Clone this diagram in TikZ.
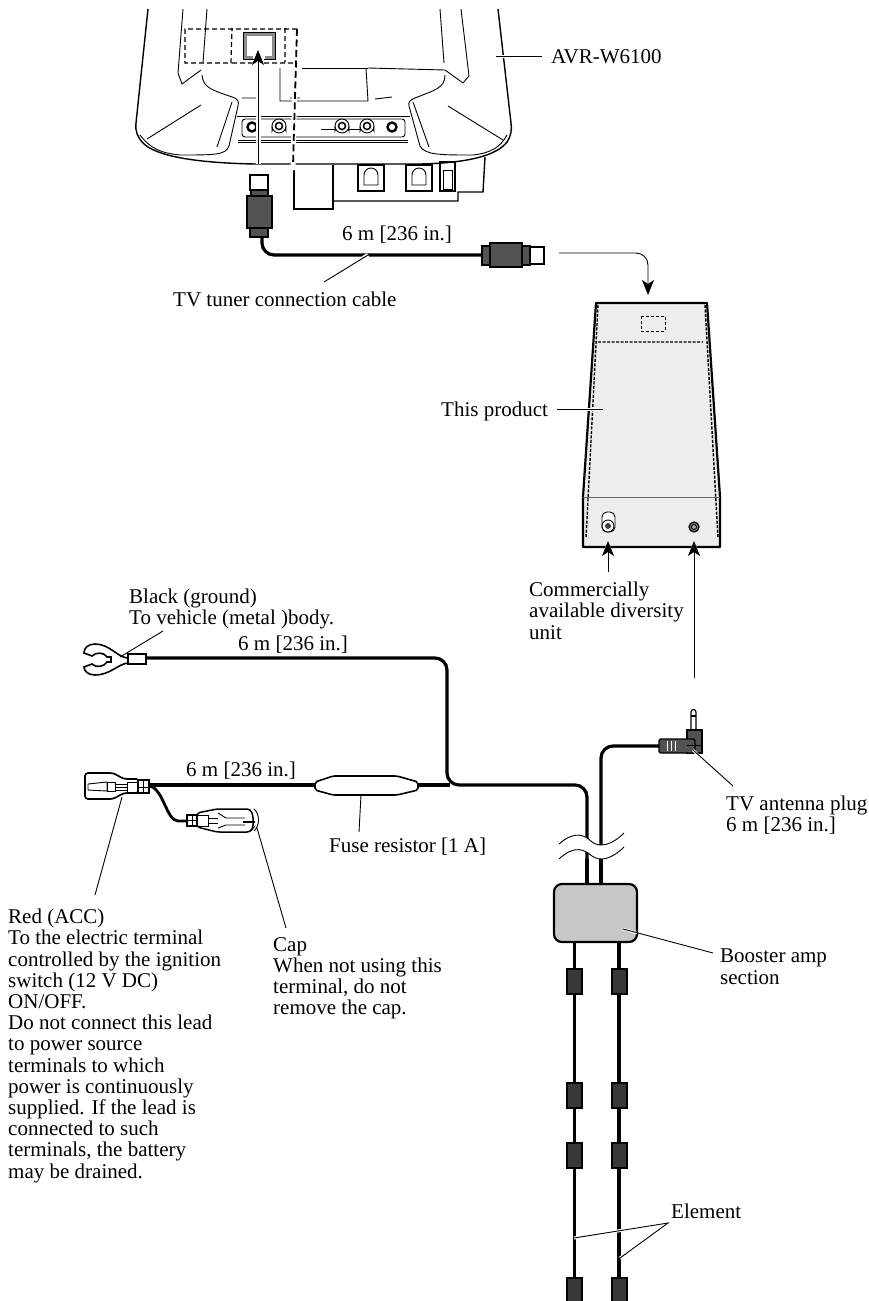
\documentclass[tikz,border=0pt]{standalone}
\usepackage{fontspec}
\setmainfont{Liberation Serif}
\usetikzlibrary{arrows.meta,calc}
\tikzset{
  note/.style={inner sep=0pt,align=left,anchor=north west,font=\fontsize{21}{21.2}\selectfont},
  leader/.style={line width=0.9pt},
  halo/.style={white,line width=4pt},
  thinline/.style={line width=0.9pt},
  bodyline/.style={line width=1.4pt},
  cable/.style={line width=3.2pt,rounded corners=12pt},
  plugdark/.style={draw=black,fill=black!68,line width=1.4pt},
  bead/.style={draw=black,fill=black!78,line width=1.5pt},
  tip/.style={-{Stealth[length=15pt,width=12pt,inset=4pt]},line width=0.9pt},
  tiphalo/.style={white,line width=2pt,-{Stealth[length=17pt,width=14pt,inset=4pt]}}
}
\begin{document}
\begin{tikzpicture}[x=1pt,y=-1pt]
\useasboundingbox (0,0) rectangle (869,1301);
% head unit
\draw[bodyline] (148,9) -- (136,123) .. controls (135,132) and (138,137) .. (142,142)
  .. controls (155,157) and (200,163) .. (255,164) -- (420,164)
  .. controls (470,163) and (497,155) .. (507,142) .. controls (511,136) and (512,130) .. (511,123) -- (498,9);
\draw[thinline] (183,9) -- (178,73) -- (182,84) -- (201,70);
\draw[thinline] (207,9) -- (203,63);
\draw[thinline] (440,9) -- (444,63);
\draw[thinline] (461,9) -- (469,76) -- (463,83) -- (445,70) -- (368,68);
\draw[thinline] (366,68) -- (368,101) -- (280,101) -- (280,68);
\draw[thinline] (302,68) -- (368,68);
\draw[thinline] (202,75) .. controls (203,88) and (212,90) .. (235,98) .. controls (238,100) and (239,102) .. (238,106)
  -- (229,146) .. controls (226,155) and (215,155) .. (180,155) .. controls (160,153) and (150,148) .. (140,135);
\draw[thinline] (445,75) .. controls (445,88) and (435,90) .. (415,98) .. controls (410,100) and (408,102) .. (409,106)
  -- (420,146) .. controls (425,155) and (440,155) .. (473,155) .. controls (490,153) and (500,148) .. (507,135);
\draw[thinline] (201,105) -- (147,139) (448,106) -- (503,140);
\draw[thinline] (232,102) -- (217,147) (413,102) -- (429,147);
\draw[thinline] (242,98) -- (257,98) (290,98) -- (300,98) (375,99) -- (392,97);
\draw[thinline] (237,116) -- (410,116) (238,140) -- (408,140) (238,142) -- (408,142);
\draw[thinline,rounded corners=3pt] (242,119) rectangle (405,137);
\foreach \jackx in {279,342,367} {
  \draw[thinline,fill=white] (\jackx-7,126) -- (\jackx-7,131) arc (180:0:7 and -3.5) -- (\jackx+7,126);
  \draw[thinline,fill=white] (\jackx,126) circle (7);
  \draw[line width=1.5pt] (\jackx,126) circle (3.5);
}
\foreach \jackx in {252,392} {
  \draw[line width=2.4pt,fill=white] (\jackx,127) circle (4.5);
}
\draw[thinline] (321,129) -- (335,129) (349,129) -- (360,129);
\draw[bodyline] (294,165) -- (294,209) -- (333,209) -- (333,165);
\draw[bodyline] (333,201) -- (458,201) -- (458,192) -- (483,192) -- (485,157);
\foreach \boxx in {358,406} {
  \draw[bodyline] (\boxx,165) rectangle ++(26,26);
  \draw[thinline] (\boxx+6,185) -- (\boxx+6,175) arc (180:360:7) -- (\boxx+20,185) -- cycle;
}
\draw[bodyline] (440,162) rectangle (455,191);
\draw[thinline] (443,170) rectangle (452,189);
% connector on the head unit
\draw[line width=3pt,black!45] (253,57) -- (245,57) -- (245,34) -- (273,34) -- (273,57) -- (265,57);
\draw[line width=0.9pt] (254,59) -- (243,59) -- (243,32) -- (275,32) -- (275,59) -- (264,59);
\draw[white,line width=5pt] (295,66) -- (293,170);
\draw[dash pattern=on 7pt off 3.5pt,line width=1.8pt] (297,29) -- (293,165);
\draw[dash pattern=on 5pt off 3pt,line width=1.2pt] (297,29) -- (185,29) -- (185,63) -- (231,63) -- (232,28)
  (232,63) -- (297,63) (285,28) -- (285,62);
% cable to the tuner
\coordinate (tunerplug) at (262,237);
\coordinate (tunerend) at (482,255);
\draw[cable] (tunerplug) -- (262,255) -- (tunerend);
\draw[line width=1.2pt,fill=white] (250,175) rectangle (268,190);
\draw[plugdark] (251,190) rectangle (268,198);
\draw[plugdark] (247,196) rectangle (272,228);
\draw[plugdark] (250,228) rectangle (268,237);
\draw[plugdark] (482,246) rectangle (490,265);
\draw[line width=1.2pt,fill=white] (530,247) rectangle (544,264);
\draw[plugdark] (490,243) rectangle (522,267);
\draw[plugdark] (522,246) rectangle (530,265);
\coordinate (portarrow) at (258,50);
\coordinate (portfoot) at (258,164);
\draw[tiphalo] (portfoot) -- (portarrow);
\draw[white,line width=5pt] (portfoot) -- (258,64);
\draw[tip] (portfoot) -- (portarrow);
% tuner box
\draw[line width=2.2pt,fill=black!7,line join=round] (596,303) -- (707,303) -- (720,497) -- (720,547) -- (583,547) -- (583,497) -- cycle;
\draw[thinline,black!60] (583,497) -- (720,497);
\draw[dash pattern=on 3pt off 1.5pt,line width=1.4pt] (598,305) -- (586,538) (705,305) -- (718,538) (598,342) -- (703,342);
\draw[dash pattern=on 3pt off 2pt,line width=0.9pt] (641,316) rectangle (665,331);
\draw[thinline,fill=white,rounded corners=5pt] (602,512) rectangle (615,532);
\draw[thinline,fill=white] (608,526) circle (6);
\fill[black!75] (608,526) circle (3);
\draw[line width=1.2pt,fill=black!50] (694,527) circle (5);
\draw[thinline,fill=black!30] (694,527) circle (2.5);
\coordinate (boxtop) at (648,295);
\coordinate (plugpoint) at (559,253);
\draw[tip,rounded corners=12pt] (plugpoint) -- (648,253) -- (boxtop);
\coordinate (divport) at (608,541);
\coordinate (antport) at (694,541);
\coordinate (antfoot) at (694,678);
\draw[tiphalo] (608,570) -- (divport);
\draw[tiphalo] (antfoot) -- (antport);
\draw[tip] (608,572) -- (divport);
\draw[tip] (antfoot) -- (antport);
% harness
\draw[cable] (146,658) -- (447,658) -- (447,785) -- (587,785) -- (587,885);
\draw[cable] (149,785) -- (315,785);
\draw[cable] (601,885) -- (601,746) -- (660,746);
\draw[line width=2.8pt] (150,786) .. controls (164,790) and (166,820) .. (178,821) -- (187,821);
% ring terminal
\draw[line width=1.6pt,fill=white] (128,658) .. controls (118,658) and (110,644) .. (95,644) .. controls (88,644) and (84,648) .. (84,653)
  -- (92,656) .. controls (96,652) and (104,652) .. (107,657) -- (111,657) -- (111,662) -- (107,662)
  .. controls (104,667) and (96,668) .. (92,664) -- (84,667) .. controls (84,671) and (88,675) .. (95,675)
  .. controls (110,675) and (118,664) .. (128,663);
\draw[line width=1.4pt,fill=white] (128,654) rectangle (146,664);
% fuse
\draw[line width=1.6pt,fill=white,rounded corners=2pt] (315,782) -- (333,776) -- (397,776) -- (418,782) -- (418,790) -- (397,795) -- (333,795) -- (315,790) -- cycle;
\draw[cable] (418,785) -- (450,785);
% red terminal
\draw[line width=1.7pt,rounded corners=3pt,fill=white] (85,773) -- (113,773) -- (124,779) -- (139,779) -- (139,793) -- (124,793) -- (113,799) -- (85,799) -- cycle;
\draw[thinline] (88,784) -- (107,782) -- (107,791) -- (88,790) -- cycle;
\draw[thinline] (107,782) rectangle (115,791);
\draw[thinline] (115,784) rectangle (127,790) (115,787) -- (127,787);
\draw[thinline] (127,782) rectangle (138,792);
\draw[line width=1.4pt,fill=white] (138,780) rectangle (149,793);
\draw[thinline] (143,780) -- (143,793) (138,787) -- (149,787);
% capped terminal
\draw[line width=1.5pt,rounded corners=3pt,fill=white] (197,813) -- (217,809) -- (250,809) -- (253,815) -- (253,828) -- (250,832) -- (217,832) -- (197,827) -- cycle;
\draw[line width=1.4pt,fill=white] (187,815) rectangle (197,826);
\draw[thinline] (192,815) -- (192,826) (187,820) -- (197,820);
\draw[thinline] (197,815) -- (208,815) -- (208,826) -- (197,826) (208,818) -- (218,818) (208,823) -- (218,823);
\draw[thinline] (218,813) -- (226,818) -- (245,818) (218,828) -- (226,825) -- (245,825);
\draw[line width=1.6pt] (243,822) -- (255,822);
\draw[thinline] (254,809) .. controls (260,814) and (260,826) .. (254,831);
% antenna plug
\draw[line width=1.1pt,fill=white] (691,730) -- (691,712) arc (180:360:2.5) -- (696,730);
\draw[line width=1.1pt] (691,716) -- (696,716);
\draw[plugdark] (687,730) rectangle (702,753);
\draw[plugdark,rounded corners=2pt] (659,739) rectangle (695,753);
\draw[black!68,line width=4pt] (690,742) -- (690,750);
\foreach \stripex in {667,671,675} { \draw[white,line width=1pt] (\stripex,741) -- (\stripex,751); }
\draw[black,line width=0.8pt] (687,745) -- (702,745);
% cable break
\fill[white] (559,844) .. controls (575,830) and (585,835) .. (592,842) .. controls (600,848) and (612,845) .. (624,833) -- (624,847)
  .. controls (612,859) and (600,862) .. (592,856) .. controls (585,850) and (575,844) .. (559,859) -- cycle;
\draw[thinline] (559,844) .. controls (575,830) and (585,835) .. (592,842) .. controls (600,848) and (612,845) .. (624,833);
\draw[thinline] (559,859) .. controls (575,844) and (585,850) .. (592,856) .. controls (600,862) and (612,859) .. (624,847);
% booster amp
\draw[cable,rounded corners=0pt] (587,859) -- (587,885) (601,859) -- (601,885);
\draw[line width=3pt] (574,942) -- (574,1301);
\draw[line width=3.5pt] (619,942) -- (619,1301);
\draw[line width=2.2pt,fill=black!22,rounded corners=8pt] (554,884) rectangle (637,942);
\foreach \beady/\beadh in {969/25,1083/25,1143/25,1278/30} {
  \draw[bead] (567,\beady) rectangle ++(15,\beadh);
  \draw[bead] (612,\beady) rectangle ++(15,\beadh);
}
% labels
\node[note] (avrlabel) at (551,49) {AVR-W6100};
\coordinate (avrpoint) at (496,56);
\coordinate (avrend) at (542,56);
\draw[halo,line width=3pt] (avrpoint) -- (avrend);
\draw[leader] (avrpoint) -- (avrend);
\node[note] (lenone) at (342,226) {6 m [236 in.]};
\node[note] (tunerlabel) at (173,292) {TV tuner connection cable};
\coordinate (tunercable) at (368,255);
\draw[halo] (tunercable) -- +(-5,3);
\draw[leader] (tunercable) -- (324,282);
\node[note] (productlabel) at (441,402) {This product};
\coordinate (productstart) at (557,409);
\coordinate (productpoint) at (603,409);
\draw[halo,line width=3pt] (productstart) -- (productpoint);
\draw[leader] (productstart) -- (productpoint);
\node[note] (divlabel) at (529,582) {Commercially\\available diversity\\unit};
\node[note] (blacklabel) at (129,589) {Black (ground)\\To vehicle (metal )body.};
\coordinate (ringpoint) at (120,657);
\draw[leader] (ringpoint) -- (163,631);
\node[note] (lentwo) at (238,636) {6 m [236 in.]};
\node[note] (lenthree) at (186,762) {6 m [236 in.]};
\node[note] (fuselabel) at (329,838) {Fuse resistor [1 A]};
\coordinate (fusepoint) at (361,795);
\draw[leader] (fusepoint) -- (359,832);
\node[note] (pluglabel) at (726,796) {TV antenna plug\\6 m [236 in.]};
\coordinate (plugend) at (693,750);
\draw[halo,line width=2.5pt] (plugend) -- +(6,6);
\draw[leader] (plugend) -- (733,786);
\node[note] (amplabel) at (720,949) {Booster amp\\section};
\coordinate (amppoint) at (623,929);
\draw[halo,line width=2.5pt] (amppoint) -- +(14,4);
\draw[leader] (amppoint) -- (713,953);
\node[note] (redlabel) at (8,909) {Red (ACC)\\To the electric terminal\\controlled by the ignition\\switch (12 V DC)\\ON/OFF.\\Do not connect this lead\\to power source\\terminals to which\\power is continuously\\supplied. If the lead is\\connected to such\\terminals, the battery\\may be drained.};
\coordinate (redpoint) at (122,797);
\draw[leader] (redpoint) -- (95,895);
\node[note] (caplabel) at (273,937) {Cap\\When not using this\\terminal, do not\\remove the cap.};
\coordinate (cappoint) at (257,828);
\draw[leader] (cappoint) -- (286,928);
\node[note] (elementlabel) at (671,1204) {Element};
\coordinate (elementa) at (574,1238);
\coordinate (elementb) at (620,1258);
\coordinate (elementjoin) at (668,1223);
\draw[halo,line width=3pt] (elementa) -- (elementjoin) -- (elementb);
\draw[leader] (elementa) -- (elementjoin) -- (elementb);
\end{tikzpicture}
\end{document}
